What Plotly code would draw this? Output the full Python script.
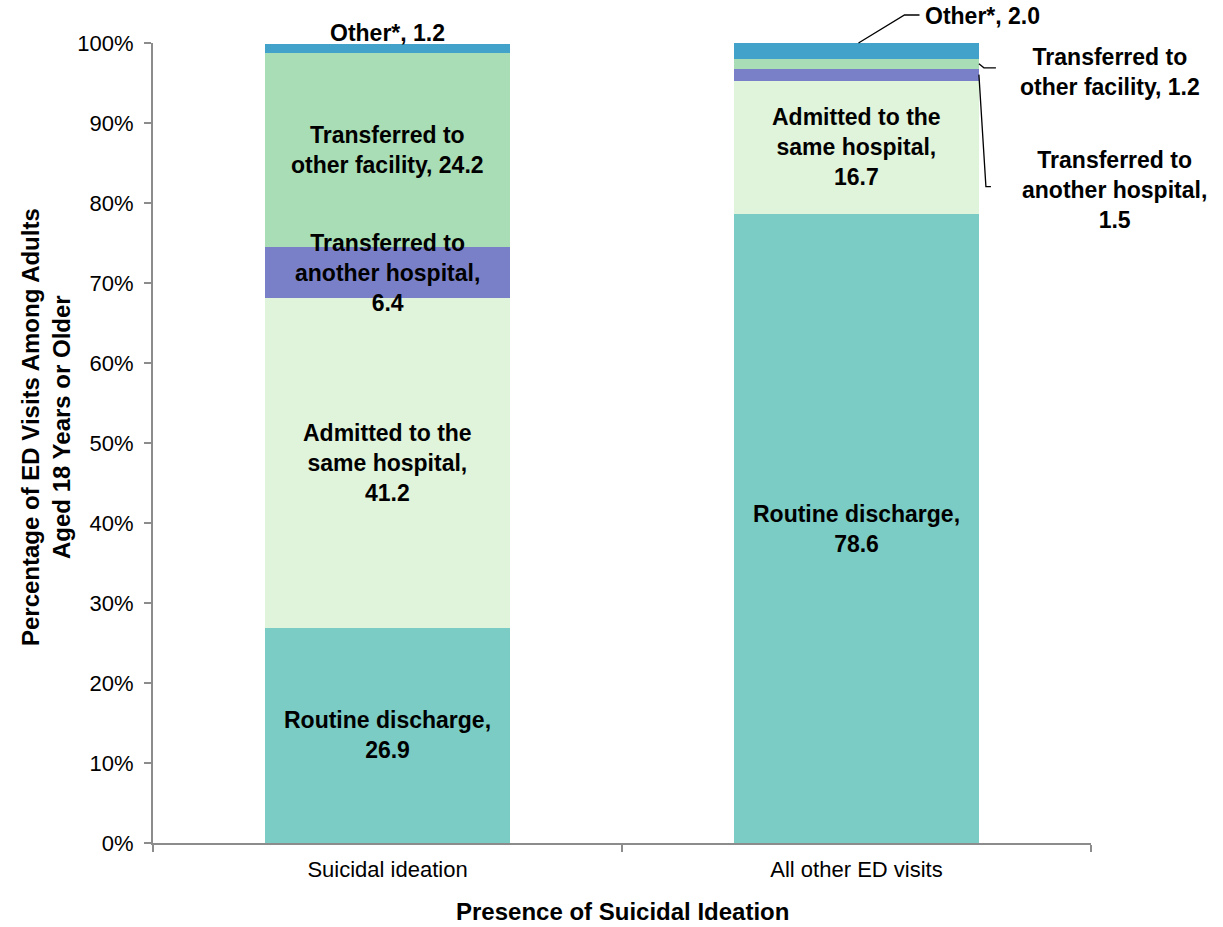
import plotly.graph_objects as go

# Discharge disposition of adult ED visits, by presence of suicidal ideation
categories = ["Suicidal ideation", "All other ED visits"]
segments = [
    "Routine discharge",
    "Admitted to the same hospital",
    "Transferred to another hospital",
    "Transferred to other facility",
    "Other*",
]
suicidal_ideation = [26.9, 41.2, 6.4, 24.2, 1.2]
all_other_visits = [78.6, 16.7, 1.5, 1.2, 2.0]
label_templates = [
    "Routine discharge,<br>{:.1f}",
    "Admitted to the<br>same hospital,<br>{:.1f}",
    "Transferred to<br>another hospital,<br>{:.1f}",
    "Transferred to<br>other facility, {:.1f}",
    "Other*, {:.1f}",
]
colors = ["#7ACCC4", "#E0F3DB", "#7A80C8", "#A8DDB5", "#43A2CA"]
y_ticks = list(range(0, 101, 10))
Y_MAX = 100

FONT = "Liberation Sans, Arial, sans-serif"
BAR_WIDTH = 0.522
LABEL_SIZE = 23

series = [suicidal_ideation, all_other_visits]

fig = go.Figure()
for i, name in enumerate(segments):
    fig.add_trace(go.Bar(
        name=name,
        x=categories,
        y=[s[i] for s in series],
        width=BAR_WIDTH,
        marker=dict(color=colors[i], line=dict(width=0)),
        hoverinfo="name+y",
    ))

annotations = []
shapes = []
label_font = dict(family=FONT, size=LABEL_SIZE, color="#000000")
leader = dict(color="#000000", width=1.3)

for ci, vals in enumerate(series):
    bottoms = [sum(vals[:k]) for k in range(len(vals))]
    tops = [sum(vals[:k + 1]) for k in range(len(vals))]
    for k, v in enumerate(vals):
        text = "<b>" + label_templates[k].format(v) + "</b>"
        mid = (bottoms[k] + tops[k]) / 2
        if (ci == 0 and k < 4) or (ci == 1 and k < 2):
            annotations.append(dict(x=ci, y=mid, xref="x", yref="y", text=text,
                                    showarrow=False, font=label_font,
                                    xanchor="center", yanchor="middle"))
        elif ci == 0:
            # thin top segment: label sits just above the bar
            annotations.append(dict(x=ci, y=tops[k], xref="x", yref="y", text=text,
                                    showarrow=False, font=label_font,
                                    xanchor="center", yanchor="middle", yshift=11))
        else:
            edge = ci + BAR_WIDTH / 2
            if k == 4:
                # leader from the top of the bar up to the label (paper y so it is not clipped)
                shapes.append(dict(type="path", xref="x", yref="paper",
                                   xsizemode="pixel", ysizemode="pixel",
                                   xanchor=ci, yanchor=tops[k] / Y_MAX,
                                   path="M 2,0 L 48,28 L 63,28",
                                   line=leader))
                annotations.append(dict(x=ci, y=tops[k], xref="x", yref="y", text=text,
                                        showarrow=False, font=label_font,
                                        xanchor="left", yanchor="middle",
                                        xshift=66, yshift=27))
            elif k == 3:
                shapes.append(dict(type="path", xref="x", yref="y",
                                   xsizemode="pixel", ysizemode="pixel",
                                   xanchor=edge, yanchor=mid,
                                   path="M 0,0 L 5,-4 L 17,-4",
                                   line=leader))
                annotations.append(dict(x=edge, y=mid, xref="x", yref="y", text=text,
                                        showarrow=False, font=label_font,
                                        xanchor="center", yanchor="middle",
                                        xshift=131, yshift=-8))
            elif k == 2:
                shapes.append(dict(type="path", xref="x", yref="y",
                                   xsizemode="pixel", ysizemode="pixel",
                                   xanchor=edge, yanchor=mid,
                                   path="M 0,0 L 7,-112 L 12,-112",
                                   line=leader))
                annotations.append(dict(x=edge, y=mid, xref="x", yref="y", text=text,
                                        showarrow=False, font=label_font,
                                        xanchor="center", yanchor="middle",
                                        xshift=136, yshift=-115))

# axis titles
annotations.append(dict(x=0.5, y=-0.1035, xref="paper", yref="paper",
                        text="<b>Presence of Suicidal Ideation</b>", showarrow=False,
                        font=dict(family=FONT, size=24, color="#000000"),
                        xanchor="center", yanchor="bottom", borderpad=0))
annotations.append(dict(x=-0.114, y=0.52, xref="paper", yref="paper",
                        text="<b>Percentage of ED Visits Among Adults<br>Aged 18 Years or Older</b>",
                        showarrow=False, textangle=-90,
                        font=dict(family=FONT, size=24, color="#000000"),
                        xanchor="center", yanchor="middle"))

fig.update_layout(
    barmode="stack",
    width=1223,
    height=927,
    margin=dict(l=153, r=132, t=43, b=84),
    paper_bgcolor="white",
    plot_bgcolor="white",
    showlegend=False,
    font=dict(family=FONT, size=22, color="#000000"),
    annotations=annotations,
    shapes=shapes,
)
fig.update_xaxes(
    type="category",
    range=[-0.5, 1.5],
    showline=True, linecolor="#8C8C8C", linewidth=2,
    ticks="outside", ticklen=7, tickwidth=2, tickcolor="#8C8C8C",
    tickson="boundaries",
    ticklabelstandoff=6,
    showgrid=False, zeroline=False,
    tickfont=dict(family=FONT, size=22, color="#000000"),
)
fig.update_yaxes(
    range=[0, Y_MAX],
    tickvals=y_ticks,
    ticktext=[f"{t}%" for t in y_ticks],
    showline=True, linecolor="#8C8C8C", linewidth=2,
    ticks="outside", ticklen=7, tickwidth=2, tickcolor="#8C8C8C",
    ticklabelstandoff=6,
    showgrid=False, zeroline=False,
    tickfont=dict(family=FONT, size=22, color="#000000"),
)

fig.write_html("out.html")
